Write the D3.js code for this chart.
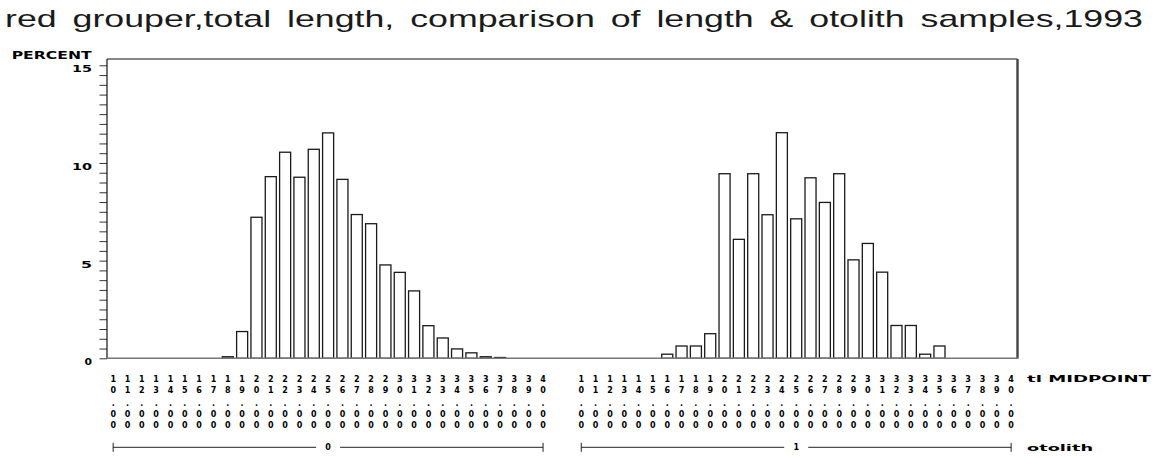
<!DOCTYPE html>
<html>
<head>
<meta charset="utf-8">
<script src="https://cdn.jsdelivr.net/npm/d3@7"></script>
<style>
  html, body { margin: 0; padding: 0; background: #fff; }
  svg { display: block; }
  text { fill: #000; }
</style>
</head>
<body>
<svg id="chart" width="1166" height="458"></svg>
<script>
// tl midpoints (inches), shared by both otolith groups
const midpoints = ["10.00","11.00","12.00","13.00","14.00","15.00","16.00","17.00","18.00","19.00",
                   "20.00","21.00","22.00","23.00","24.00","25.00","26.00","27.00","28.00","29.00",
                   "30.00","31.00","32.00","33.00","34.00","35.00","36.00","37.00","38.00","39.00","40.00"];
const otolithGroups = ["0", "1"];

// percent of fish at each midpoint, otolith = 0 (length samples only)
const percentOtolith0 = [0, 0, 0, 0, 0, 0, 0, 0, 0.08, 1.37,
                         7.22, 9.30, 10.55, 9.27, 10.70, 11.54, 9.16, 7.36, 6.89, 4.78,
                         4.40, 3.45, 1.67, 1.04, 0.48, 0.28, 0.08, 0.04, 0, 0, 0];
// percent of fish at each midpoint, otolith = 1 (otolith samples)
const percentOtolith1 = [0, 0, 0, 0, 0, 0, 0.21, 0.63, 0.63, 1.26,
                         9.45, 6.09, 9.45, 7.35, 11.55, 7.14, 9.24, 7.98, 9.45, 5.04,
                         5.88, 4.41, 1.68, 1.68, 0.21, 0.63, 0, 0, 0, 0, 0];

const yTickLabels = [0, 5, 10, 15];
const titleText = "red grouper,total length, comparison of length & otolith samples,1993";

const svg = d3.select("#chart");
const frame = { left: 107, right: 1017.5, top: 59, bottom: 358.3 };
const blockFont = "'DejaVu Sans', Verdana, sans-serif";

const y = d3.scaleLinear().domain([0, 15]).range([frame.bottom, 65.3]);

const xGroup = d3.scaleBand()
  .domain(otolithGroups)
  .range([106, 1018.3])
  .paddingInner(0.051)
  .paddingOuter(0);

const xMid = d3.scaleBand()
  .domain(midpoints)
  .range([0, xGroup.bandwidth()])
  .paddingInner(0.23)
  .paddingOuter(0.115);

const series = [
  { group: "0", values: percentOtolith0 },
  { group: "1", values: percentOtolith1 }
];

// title
svg.append("text")
  .attr("x", 5)
  .attr("y", 27)
  .attr("font-family", "'Liberation Sans', Arial, sans-serif")
  .attr("font-size", 24)
  .attr("word-spacing", 4)
  .attr("textLength", 1138)
  .attr("lengthAdjust", "spacingAndGlyphs")
  .style("fill", "#1a1a1a")
  .text(titleText);

// y axis: ticks every half percent
const yAxis = d3.axisLeft(y)
  .tickValues(d3.range(0, 15.01, 0.5))
  .tickSize(7.5)
  .tickFormat("");
const yAxisG = svg.append("g")
  .attr("transform", `translate(${frame.left},0)`)
  .call(yAxis);
yAxisG.select(".domain").remove();
yAxisG.selectAll(".tick line").attr("stroke", "#333").attr("stroke-width", 1);

svg.append("g").selectAll("text")
  .data(yTickLabels)
  .join("text")
  .attr("x", 92)
  .attr("y", d => y(d) + 7)
  .attr("text-anchor", "end")
  .attr("font-family", blockFont)
  .attr("font-weight", "bold")
  .attr("font-size", 9.5)
  .attr("textLength", d => String(d).length === 1 ? (d === 0 ? 7.5 : 11) : 20)
  .attr("lengthAdjust", "spacingAndGlyphs")
  .text(d => d);

svg.append("text")
  .attr("x", 11.7)
  .attr("y", 59.3)
  .attr("font-family", blockFont)
  .attr("font-weight", "bold")
  .attr("font-size", 10)
  .attr("textLength", 80)
  .attr("lengthAdjust", "spacingAndGlyphs")
  .text("PERCENT");

// bars
const groupsG = svg.append("g")
  .selectAll("g")
  .data(series)
  .join("g")
  .attr("transform", d => `translate(${xGroup(d.group)},0)`);

groupsG.selectAll("rect")
  .data(d => d.values.map((v, i) => ({ mid: midpoints[i], v })).filter(e => e.v > 0))
  .join("rect")
  .attr("x", d => xMid(d.mid))
  .attr("y", d => y(d.v))
  .attr("width", xMid.bandwidth())
  .attr("height", d => y(0) - y(d.v))
  .attr("fill", "#fff")
  .attr("stroke", "#1a1a1a")
  .attr("stroke-width", 1.3);

// frame
svg.append("line")
  .attr("x1", frame.left).attr("x2", frame.right)
  .attr("y1", frame.top).attr("y2", frame.top)
  .attr("stroke", "#111").attr("stroke-width", 1);
svg.append("line")
  .attr("x1", frame.left).attr("x2", frame.left)
  .attr("y1", frame.top).attr("y2", frame.bottom)
  .attr("stroke", "#111").attr("stroke-width", 1.2);
svg.append("line")
  .attr("x1", frame.right).attr("x2", frame.right)
  .attr("y1", frame.top).attr("y2", frame.bottom)
  .attr("stroke", "#444").attr("stroke-width", 2.4);
svg.append("line")
  .attr("x1", frame.left).attr("x2", frame.right + 1)
  .attr("y1", frame.bottom).attr("y2", frame.bottom)
  .attr("stroke", "#777").attr("stroke-width", 1.6);

// vertical midpoint labels: one character per row
const rowBaselines = [382.3, 392.5, 406, 416.7, 427.7];

const labelG = groupsG.append("g");
labelG.selectAll("g")
  .data(midpoints)
  .join("g")
  .attr("transform", d => `translate(${xMid(d) + xMid.bandwidth() / 2},0)`)
  .selectAll("text")
  .data(d => d.split(""))
  .join("text")
  .attr("x", 0)
  .attr("y", (c, i) => rowBaselines[i])
  .attr("text-anchor", "middle")
  .attr("font-family", blockFont)
  .attr("font-weight", "bold")
  .attr("font-size", 8)
  .text(c => c);

// group brackets
const bracketY = 447.3;
groupsG.each(function(d) {
  const g = d3.select(this);
  const x0 = xMid(midpoints[0]) + xMid.bandwidth() / 2;
  const x1 = xMid(midpoints[midpoints.length - 1]) + xMid.bandwidth() / 2;
  const xc = (x0 + x1) / 2;
  const gap = 12;
  g.append("line").attr("x1", x0).attr("x2", xc - gap).attr("y1", bracketY).attr("y2", bracketY)
    .attr("stroke", "#222").attr("stroke-width", 1);
  g.append("line").attr("x1", xc + gap).attr("x2", x1).attr("y1", bracketY).attr("y2", bracketY)
    .attr("stroke", "#222").attr("stroke-width", 1);
  g.append("line").attr("x1", x0).attr("x2", x0).attr("y1", bracketY - 4.5).attr("y2", bracketY + 4.5)
    .attr("stroke", "#222").attr("stroke-width", 1);
  g.append("line").attr("x1", x1).attr("x2", x1).attr("y1", bracketY - 4.5).attr("y2", bracketY + 4.5)
    .attr("stroke", "#222").attr("stroke-width", 1);
  g.append("text")
    .attr("x", xc).attr("y", bracketY + 3)
    .attr("text-anchor", "middle")
    .attr("font-family", blockFont)
    .attr("font-weight", "bold")
    .attr("font-size", 8)
    .text(d.group);
});

// axis names on the right
svg.append("text")
  .attr("x", 1027)
  .attr("y", 382.3)
  .attr("font-family", blockFont)
  .attr("font-weight", "bold")
  .attr("font-size", 8.5)
  .attr("textLength", 124)
  .attr("lengthAdjust", "spacingAndGlyphs")
  .text("tl MIDPOINT");

svg.append("text")
  .attr("x", 1027)
  .attr("y", 451)
  .attr("font-family", blockFont)
  .attr("font-weight", "bold")
  .attr("font-size", 8.5)
  .attr("textLength", 66)
  .attr("lengthAdjust", "spacingAndGlyphs")
  .text("otolith");
</script>
</body>
</html>
